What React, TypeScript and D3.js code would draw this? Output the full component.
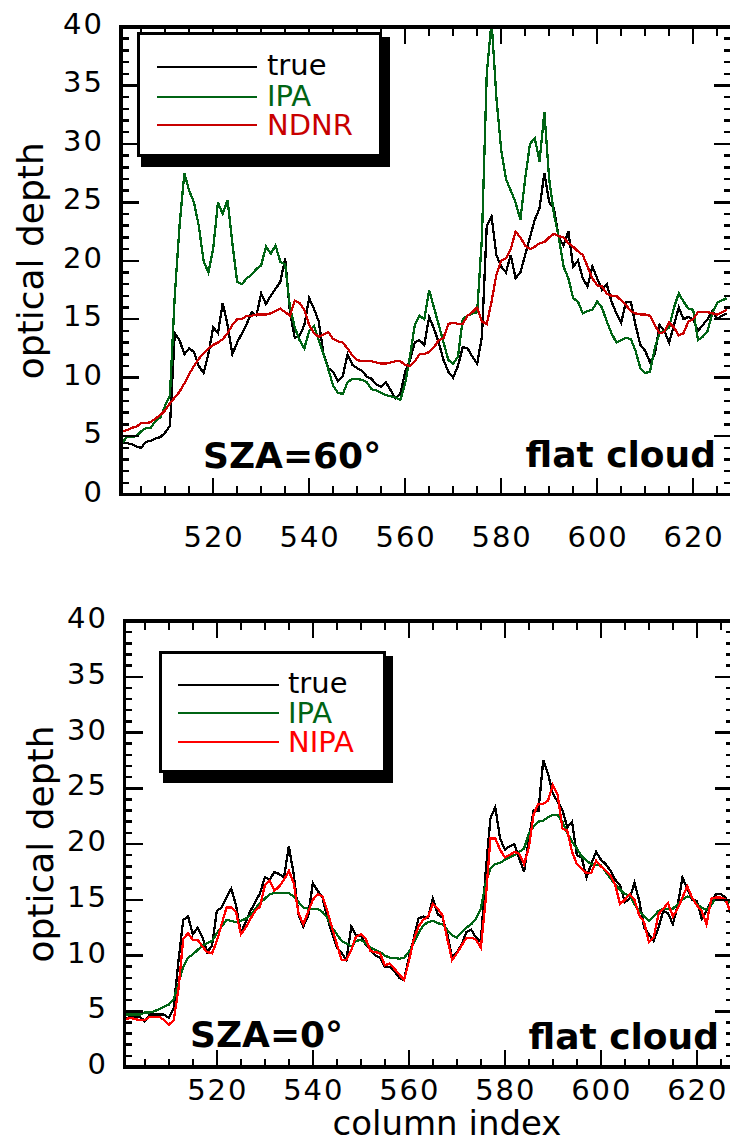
import React from "react";
import * as d3 from "d3";

// column index 501..627
const COLUMNS: number[] = d3.range(501, 628);
const X_TICK_LABELS = [520, 540, 560, 580, 600, 620];
const Y_TICK_LABELS = [0, 5, 10, 15, 20, 25, 30, 35, 40];

const TOP_TRUE = [
  4.4, 4.4, 4.3, 4.1, 4.0, 4.5, 4.6, 4.8, 4.9, 5.3,
  5.9, 13.8, 13.2, 12.0, 12.5, 12.2, 11.0, 10.4, 12.0, 14.3,
  13.8, 16.4, 14.5, 12.0, 13.0, 13.8, 14.6, 15.6, 15.3, 17.2,
  16.3, 17.0, 17.6, 18.2, 20.2, 15.6, 13.4, 13.6, 14.5, 16.8,
  15.9, 14.8, 12.0, 10.8, 10.5, 9.7, 10.1, 12.0, 11.1, 10.8,
  10.6, 10.1, 9.9, 9.4, 9.2, 9.6, 8.9, 8.2, 8.6, 10.5,
  11.5, 13.0, 13.2, 12.8, 15.2, 14.2, 13.0, 11.5, 10.5, 10.0,
  11.0, 12.6, 12.5, 11.8, 11.2, 13.5, 23.0, 23.8, 20.5, 19.5,
  19.0, 20.5, 18.5, 19.0, 20.5, 22.0, 23.5, 24.5, 27.5, 25.0,
  24.5, 22.0, 21.3, 22.5, 19.5, 20.0, 18.5, 17.8, 19.5, 18.5,
  17.5, 18.0, 16.5, 15.5, 14.7, 16.5, 16.5, 14.5, 12.8, 12.3,
  11.3, 12.0, 14.5, 14.0, 13.0, 14.5, 16.0, 15.0, 15.2, 15.0,
  14.0, 14.5, 15.0, 15.7, 15.0, 15.3, 15.5,
];

const TOP_IPA = [
  4.4, 4.9, 4.9, 5.0, 5.4, 5.7, 5.7, 6.3, 6.6, 7.6,
  8.5, 17.0, 23.0, 27.5, 26.0, 25.0, 23.0, 20.0, 19.0, 21.0,
  25.0, 24.0, 25.2, 21.5, 18.2, 18.0, 18.5, 18.8, 19.3, 19.6,
  21.2, 20.6, 21.3, 19.9, 19.7, 16.0, 14.3, 13.2, 12.5, 14.0,
  14.4, 13.2, 12.0, 10.7, 9.3, 8.7, 8.6, 9.6, 9.9, 9.9,
  9.8, 9.6, 9.0, 8.9, 8.7, 8.5, 8.4, 8.3, 8.1, 9.5,
  11.8, 14.5, 15.3, 15.0, 17.5, 16.0, 14.5, 13.0, 11.5, 11.2,
  11.8, 15.0, 15.3, 15.5, 15.6, 22.0, 36.0, 40.5, 34.0, 29.5,
  27.0, 26.0, 25.0, 23.5, 27.0, 30.0, 30.5, 28.5, 32.7, 27.0,
  24.0, 22.0, 19.5, 18.5, 16.8, 16.5, 15.5, 15.7, 15.8, 16.5,
  16.0, 14.8, 13.8, 13.0, 13.2, 13.4, 13.3, 12.3, 10.8, 10.4,
  10.5, 12.5, 13.8, 14.0, 14.3, 16.0, 17.2, 16.5, 15.9, 15.8,
  13.2, 13.5, 14.0, 15.5, 16.4, 16.6, 16.8,
];

const TOP_NDNR = [
  5.4, 5.5, 5.7, 5.8, 6.1, 6.1, 6.2, 6.5, 6.8, 7.2,
  7.8, 8.3, 8.8, 9.5, 10.3, 11.0, 11.6, 12.1, 12.5, 12.8,
  13.0, 13.3, 13.8, 14.5, 15.0, 15.0, 15.3, 15.3, 15.4, 15.4,
  15.4, 15.5, 15.7, 15.9, 15.6, 15.3, 16.6, 16.4, 15.8, 14.5,
  13.8, 13.5, 13.7, 13.9, 13.3, 13.1, 13.0, 12.5, 11.9, 11.5,
  11.4, 11.4, 11.4, 11.3, 11.2, 11.2, 11.3, 11.4, 11.4, 11.1,
  11.0, 11.4, 12.0, 12.0, 12.2, 12.6, 13.2, 13.4, 14.6, 14.7,
  14.6, 14.6, 15.3, 15.6, 16.0, 14.8, 14.6, 16.5, 18.8, 20.0,
  20.2, 21.0, 22.5, 22.0, 21.3, 21.0, 21.2, 21.5, 21.6, 22.0,
  22.3, 22.1, 22.0, 21.5, 21.2, 20.8, 20.5, 19.5, 18.5, 17.9,
  17.8, 17.2, 17.0, 17.0, 16.6, 16.2, 15.7, 15.5, 15.4, 15.4,
  15.3, 14.5, 13.8, 13.9, 14.7, 14.3, 13.6, 13.8, 14.8, 15.0,
  15.6, 15.6, 15.6, 15.5, 15.4, 15.6, 15.8,
];

const BOTTOM_TRUE = [
  4.3, 4.5, 4.5, 4.5, 4.1, 4.7, 4.7, 4.7, 4.7, 4.4,
  5.3, 9.5, 13.2, 13.5, 11.9, 12.5, 11.6, 10.3, 10.9, 14.0,
  14.3, 15.2, 16.0, 14.5, 12.0, 13.0, 14.0, 14.8, 15.6, 17.0,
  16.8, 17.5, 17.3, 17.0, 19.8, 17.3, 13.7, 12.6, 13.5, 16.5,
  15.8, 15.2, 13.4, 12.0, 10.7, 10.2, 9.6, 12.6, 11.8, 11.8,
  11.0, 10.5, 10.0, 9.8, 9.0, 9.0, 8.6, 8.0, 7.8, 9.8,
  11.5, 13.3, 13.5, 13.4, 15.1, 13.7, 13.4, 12.0, 9.8, 10.3,
  11.0, 12.1, 12.3, 11.6, 11.2, 17.5, 22.3, 23.3, 20.5, 19.5,
  19.8, 20.0, 18.7, 17.5, 20.5, 23.0, 23.0, 27.5, 26.3, 24.5,
  23.8, 23.0, 21.5, 22.0, 19.0, 18.8, 17.0, 18.2, 19.3, 18.6,
  18.2, 17.6, 16.8, 16.3, 14.8, 15.1, 16.5, 14.9, 12.5, 11.9,
  11.3, 12.5, 14.0, 13.8, 12.8, 14.5, 17.0, 16.0, 15.0, 14.9,
  13.3, 14.0, 14.9, 15.5, 15.5, 15.2, 13.8,
];

const BOTTOM_IPA = [
  4.7, 4.7, 4.7, 4.7, 4.9, 4.9, 5.0, 5.2, 5.4, 5.6,
  6.1, 7.5, 9.0, 9.8, 10.1, 10.5, 10.9, 11.1, 11.3, 12.0,
  12.6, 13.2, 13.1, 13.0, 13.1, 13.3, 13.6, 14.2, 14.7, 15.1,
  15.5, 15.6, 15.6, 15.6, 15.6, 15.3, 14.8, 14.3, 14.2, 14.2,
  14.2, 13.9, 13.4, 12.5, 11.9, 11.3, 11.1, 10.8, 11.3, 11.4,
  11.1, 10.7, 10.5, 10.3, 10.0, 9.8, 9.8, 9.7, 9.8, 10.3,
  11.1, 12.0, 12.7, 13.0, 13.1, 12.9, 12.8, 12.3, 11.8, 11.6,
  12.1, 12.5, 12.8, 13.3, 14.2, 16.5, 17.8, 18.2, 18.3, 18.6,
  18.8, 19.0, 19.3, 19.6, 20.9, 21.6, 22.0, 22.1, 22.4, 22.6,
  22.6, 22.0, 21.0, 20.2, 19.6, 18.9, 18.5, 18.2, 18.1, 18.1,
  17.5, 16.9, 16.4, 15.9, 15.5, 15.4, 14.6, 14.0, 13.5, 13.1,
  13.5, 14.0, 14.2, 14.2, 14.2, 14.6, 15.0, 15.3, 15.2, 14.6,
  14.3, 14.1, 14.5, 15.2, 15.1, 14.9, 14.8,
];

const BOTTOM_NIPA = [
  4.3, 4.4, 4.3, 4.2, 4.2, 4.5, 4.5, 4.5, 4.2, 3.8,
  4.2, 7.0, 11.5, 12.0, 11.4, 11.4, 10.8, 10.3, 10.2, 11.3,
  12.8, 14.3, 14.3, 13.9, 11.9, 12.5, 13.3, 14.0, 14.4, 16.3,
  16.7, 15.8, 16.2, 16.8, 17.6, 16.5, 13.8, 12.8, 13.9, 15.0,
  15.5, 15.3, 14.0, 12.5, 11.0, 9.6, 9.6, 10.5, 11.7, 11.9,
  11.5, 10.4, 10.3, 10.2, 9.1, 9.3, 8.8, 8.3, 7.8, 9.5,
  11.4, 12.6, 13.2, 13.5, 14.6, 14.2, 13.6, 11.5, 9.6, 10.2,
  10.9, 11.6, 11.6, 11.4, 10.7, 15.0, 20.5, 20.5, 19.5, 18.8,
  19.0, 19.3, 19.1, 18.2, 19.7, 22.7, 23.6, 23.6, 23.9, 25.3,
  24.4, 21.4, 21.2, 19.3, 18.2, 17.8, 17.4, 17.4, 18.5, 18.0,
  17.6, 17.2, 16.3, 14.6, 15.0, 15.5, 15.0, 13.6, 13.0, 11.2,
  11.6, 13.7, 14.2, 14.7, 13.5, 14.2, 15.2, 16.2, 15.2, 14.5,
  14.0, 12.8, 15.1, 15.2, 15.2, 15.0, 13.9,
];

const TOP_NAMES = ["true", "IPA", "NDNR"];
const BOTTOM_NAMES = ["true", "IPA", "NIPA"];
const TOP_ANGLE = "SZA=60°";
const BOTTOM_ANGLE = "SZA=0°";
const CLOUD_LABEL = "flat cloud";
const Y_TITLE = "optical depth";
const X_TITLE = "column index";

const GREEN = "#006414";
const TOP_COLORS = ["#000000", GREEN, "#c80000"];
const BOTTOM_COLORS = ["#000000", GREEN, "#ff0000"];

const FONT = "'DejaVu Sans', Verdana, sans-serif";

type PanelCfg = {
  id: string;
  left: number;
  right: number;
  top: number;
  bottom: number;
  domainStart: number;
  xLabelBaseline: number;
  yLabelRight: number;
  yTitleX: number;
  legend: { x0: number; y0: number; x1: number; y1: number; sx: number; sy: number; lineX0: number; lineX1: number; textX: number; lineYs: number[]; textYs: number[] };
  angle: { x: number; y: number };
  cloud: { x: number; y: number };
};

function Panel({ cfg, series, names, colors, angleText }: { cfg: PanelCfg; series: number[][]; names: string[]; colors: string[]; angleText: string }) {
  const pxPerCol = 4.8;
  const x = d3
    .scaleLinear()
    .domain([cfg.domainStart, cfg.domainStart + (cfg.right - cfg.left) / pxPerCol])
    .range([cfg.left, cfg.right]);
  const y = d3.scaleLinear().domain([0, 40]).range([cfg.bottom, cfg.top]);
  const line = d3
    .line<[number, number]>()
    .x((d) => x(d[0]))
    .y((d) => y(d[1]));

  const yMinor = d3.range(1, 40).filter((v) => v % 5 !== 0);
  const yMajor = d3.range(5, 40, 5);
  const xAll = d3.range(505, 630, 5).filter((v) => x(v) < cfg.right - 1);
  const tickW = 2.5;
  const maj = 18;
  const min = 7.5;

  return (
    <g>
      <defs>
        <clipPath id={`clip-${cfg.id}`}>
          <rect x={cfg.left} y={cfg.top} width={cfg.right - cfg.left} height={cfg.bottom - cfg.top} />
        </clipPath>
      </defs>
      <g clipPath={`url(#clip-${cfg.id})`}>
        {series.map((s, i) => (
          <path
            key={i}
            d={line(COLUMNS.map((c, j) => [c, s[j]] as [number, number])) || ""}
            fill="none"
            stroke={colors[i]}
            strokeWidth={2.3}
            strokeLinejoin="miter"
            shapeRendering="crispEdges"
          />
        ))}
      </g>
      {/* ticks */}
      <g stroke="#000" strokeWidth={tickW} shapeRendering="crispEdges">
        {yMinor.map((v) => (
          <g key={`ym${v}`}>
            <line x1={cfg.left} x2={cfg.left + min} y1={y(v)} y2={y(v)} />
            <line x1={cfg.right} x2={cfg.right - min} y1={y(v)} y2={y(v)} />
          </g>
        ))}
        {yMajor.map((v) => (
          <g key={`yM${v}`}>
            <line x1={cfg.left} x2={cfg.left + maj} y1={y(v)} y2={y(v)} />
            <line x1={cfg.right} x2={cfg.right - maj} y1={y(v)} y2={y(v)} />
          </g>
        ))}
        {xAll.map((v) => {
          const len = v % 20 === 0 ? maj - 1 : min + 1;
          return (
            <g key={`x${v}`}>
              <line x1={x(v)} x2={x(v)} y1={cfg.bottom} y2={cfg.bottom - len} />
              <line x1={x(v)} x2={x(v)} y1={cfg.top} y2={cfg.top + len} />
            </g>
          );
        })}
      </g>
      {/* frame */}
      <rect
        x={cfg.left}
        y={cfg.top}
        width={cfg.right - cfg.left}
        height={cfg.bottom - cfg.top}
        fill="none"
        stroke="#000"
        strokeWidth={3.5}
        shapeRendering="crispEdges"
      />
      {/* tick labels */}
      <g fontFamily={FONT} fontSize={29} fill="#000" letterSpacing={2}>
        {Y_TICK_LABELS.map((v) => (
          <text key={`yl${v}`} x={cfg.yLabelRight + 2} y={y(v) + 7} textAnchor="end">
            {v}
          </text>
        ))}
        {X_TICK_LABELS.map((v) => (
          <text key={`xl${v}`} x={x(v) + 1} y={cfg.xLabelBaseline} textAnchor="middle">
            {v}
          </text>
        ))}
      </g>
      <text
        transform={`translate(${cfg.yTitleX},${(cfg.top + cfg.bottom) / 2}) rotate(-90)`}
        textAnchor="middle"
        fontFamily={FONT}
        fontSize={36}
        fill="#000"
      >
        {Y_TITLE}
      </text>
      {/* legend */}
      <rect
        x={cfg.legend.x0 + 4}
        y={cfg.legend.y0 + 5}
        width={cfg.legend.sx - cfg.legend.x0 - 4}
        height={cfg.legend.sy - cfg.legend.y0 - 5}
        fill="#000"
        shapeRendering="crispEdges"
      />
      <rect
        x={cfg.legend.x0 + 1.5}
        y={cfg.legend.y0 + 1.5}
        width={cfg.legend.x1 - cfg.legend.x0 - 3}
        height={cfg.legend.y1 - cfg.legend.y0 - 3}
        fill="#fff"
        stroke="#000"
        strokeWidth={3}
        shapeRendering="crispEdges"
      />
      {names.map((n, i) => (
        <g key={n}>
          <line
            x1={cfg.legend.lineX0}
            x2={cfg.legend.lineX1}
            y1={cfg.legend.lineYs[i]}
            y2={cfg.legend.lineYs[i]}
            stroke={colors[i]}
            strokeWidth={2.3}
            shapeRendering="crispEdges"
          />
          <text x={cfg.legend.textX} y={cfg.legend.textYs[i]} fontFamily={FONT} fontSize={29} fill={colors[i]}>
            {n}
          </text>
        </g>
      ))}
      {/* annotations */}
      <text x={cfg.angle.x} y={cfg.angle.y} fontFamily={FONT} fontWeight="bold" fontSize={36} fill="#000">
        {angleText}
      </text>
      <text x={cfg.cloud.x} y={cfg.cloud.y} fontFamily={FONT} fontWeight="bold" fontSize={36} fill="#000" textAnchor="end">
        {CLOUD_LABEL}
      </text>
    </g>
  );
}

const TOP_CFG: PanelCfg = {
  id: "top",
  left: 121,
  right: 731.5,
  top: 27,
  bottom: 494.5,
  domainStart: 500.8,
  xLabelBaseline: 547,
  yLabelRight: 102,
  yTitleX: 43,
  legend: { x0: 137, y0: 32, x1: 382, y1: 157, sx: 390, sy: 167, lineX0: 157, lineX1: 257, textX: 267, lineYs: [67, 97, 125], textYs: [75, 106, 135] },
  angle: { x: 203, y: 468 },
  cloud: { x: 716, y: 467 },
};

const BOTTOM_CFG: PanelCfg = {
  id: "bottom",
  left: 124.7,
  right: 733,
  top: 621,
  bottom: 1067,
  domainStart: 500.8,
  xLabelBaseline: 1100,
  yLabelRight: 106,
  yTitleX: 53,
  legend: { x0: 159, y0: 651, x1: 386, y1: 773, sx: 393, sy: 783, lineX0: 178, lineX1: 279, textX: 288, lineYs: [685, 713, 742], textYs: [693, 723, 752] },
  angle: { x: 190, y: 1047 },
  cloud: { x: 719, y: 1049 },
};

export default function App() {
  return (
    <div style={{ position: "absolute", left: 0, top: 0, width: 730, height: 1141, overflow: "hidden", background: "#fff" }}>
      <svg width={730} height={1141} viewBox="0 0 730 1141" style={{ display: "block" }}>
        <rect x={0} y={0} width={730} height={1141} fill="#fff" />
        <Panel cfg={TOP_CFG} series={[TOP_TRUE, TOP_IPA, TOP_NDNR]} names={TOP_NAMES} colors={TOP_COLORS} angleText={TOP_ANGLE} />
        <Panel
          cfg={BOTTOM_CFG}
          series={[BOTTOM_TRUE, BOTTOM_IPA, BOTTOM_NIPA]}
          names={BOTTOM_NAMES}
          colors={BOTTOM_COLORS}
          angleText={BOTTOM_ANGLE}
        />
        <text x={447} y={1135} textAnchor="middle" fontFamily={FONT} fontSize={34} fill="#000">
          {X_TITLE}
        </text>
      </svg>
    </div>
  );
}
